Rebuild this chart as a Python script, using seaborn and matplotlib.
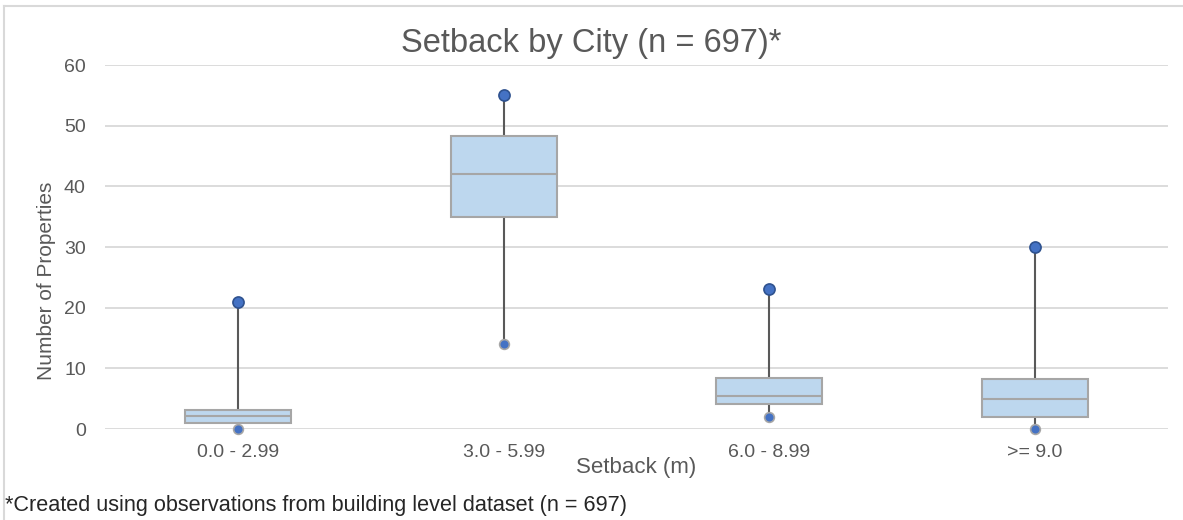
import pandas as pd
import seaborn as sns
import matplotlib.pyplot as plt
from matplotlib.lines import Line2D

# box statistics (whiskers run to min / max)
categories = ["0.0 - 2.99", "3.0 - 5.99", "6.0 - 8.99", ">= 9.0"]
mins = [0, 14, 2, 0]
q1s = [1.0, 35.0, 4.1, 2.0]
medians = [2.1, 42.0, 5.5, 5.0]
q3s = [3.1, 48.3, 8.4, 8.2]
maxs = [21, 55, 23, 30]

# five points per group reproduce the five-number summary exactly
rows = []
for c, lo, a, m, b, hi in zip(categories, mins, q1s, medians, q3s, maxs):
    for v in (lo, a, m, b, hi):
        rows.append({"setback": c, "count": v})
data = pd.DataFrame(rows)

GRAY = "#595959"
plt.rcParams["font.family"] = ["Liberation Sans", "DejaVu Sans"]

fig = plt.figure(figsize=(11.83, 5.2), dpi=100)
ax = fig.add_axes([0.089, 0.175, 0.898, 0.70])

sns.boxplot(
    data, x="setback", y="count", order=categories,
    whis=(0, 100), width=0.4, showcaps=False, showfliers=False,
    color="#BDD7EE", saturation=1, linecolor="#A6A6A6", linewidth=1.5,
    whiskerprops=dict(color=GRAY, linewidth=1.5),
    boxprops=dict(zorder=3), medianprops=dict(zorder=4),
    ax=ax,
)
sns.stripplot(x=categories, y=maxs, order=categories, jitter=False,
              color="#4472C4", edgecolor="#2F528F", linewidth=1.2, size=8,
              zorder=5, ax=ax)
sns.stripplot(x=categories, y=mins, order=categories, jitter=False,
              color="#4472C4", edgecolor="#A6A6A6", linewidth=1.2, size=7,
              zorder=5, ax=ax)
for coll in ax.collections:
    coll.set_clip_on(False)

ax.set_ylim(0, 60)
ax.set_yticks(range(0, 61, 10))
ax.set_xlim(-0.5, 3.5)
ax.grid(axis="y", color="#D9D9D9", linewidth=1.3, zorder=0)
ax.set_axisbelow(True)
for s in ax.spines.values():
    s.set_visible(False)
ax.tick_params(length=0, colors=GRAY, labelsize=14)
ax.tick_params(axis="x", pad=11)
ax.tick_params(axis="y", pad=14)

ax.set_xlabel("Setback (m)", fontsize=16, color=GRAY, labelpad=-3)
ax.set_ylabel("Number of Properties", fontsize=15, color=GRAY)
ax.yaxis.set_label_coords(-0.046, 0.407)

# title is centred on the whole chart area, not on the plot area
fig.text(0.5, 0.917, "Setback by City (n = 697)*", fontsize=23.5, color=GRAY,
         ha="center", va="center")
fig.text(0.004, 0.027, "*Created using observations from building level dataset (n = 697)",
         fontsize=15.6, color="#262626", ha="left", va="center")

# chart-area frame (top and left edges only are in view)
fig.add_artist(Line2D([0.0034, 1.0], [0.988, 0.988], transform=fig.transFigure,
                      color="#D9D9D9", linewidth=1.5))
fig.add_artist(Line2D([0.0034, 0.0034], [0.0, 0.988], transform=fig.transFigure,
                      color="#D9D9D9", linewidth=1.5))

fig.savefig("out.png", dpi=100)
